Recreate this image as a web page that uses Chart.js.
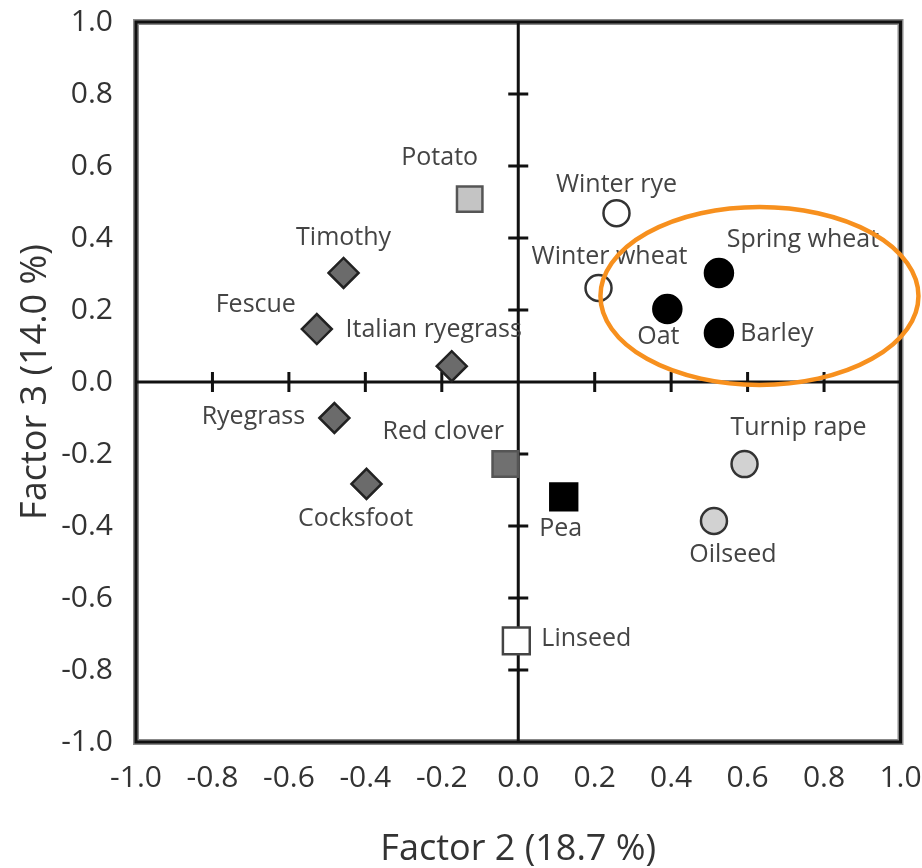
<!DOCTYPE html>
<html>
<head>
<meta charset="utf-8">
<script src="https://cdn.jsdelivr.net/npm/chart.js@4.4.1/dist/chart.umd.min.js"></script>
<style>
  html, body { margin: 0; padding: 0; background: #fff; }
  #wrap { width: 922px; height: 868px; }
</style>
</head>
<body>
<div id="wrap"><canvas id="pca" width="922" height="868"></canvas></div>
<script>
// crops and their loadings on factor 2 / factor 3
const crops = ['Potato', 'Timothy', 'Fescue', 'Italian ryegrass', 'Ryegrass', 'Cocksfoot',
  'Red clover', 'Pea', 'Linseed', 'Winter rye', 'Winter wheat', 'Spring wheat', 'Oat',
  'Barley', 'Turnip rape', 'Oilseed'];
const factor2 = [-0.127, -0.457, -0.527, -0.174, -0.481, -0.397,
  -0.034, 0.119, -0.005, 0.257, 0.210, 0.525, 0.390,
  0.525, 0.592, 0.512];
const factor3 = [0.508, 0.303, 0.147, 0.044, -0.100, -0.283,
  -0.228, -0.319, -0.719, 0.469, 0.261, 0.303, 0.203,
  0.136, -0.228, -0.386];
const cropGroup = ['potato', 'grass', 'grass', 'grass', 'grass', 'grass',
  'clover', 'pea', 'linseed', 'winter', 'winter', 'spring', 'spring',
  'spring', 'oil', 'oil'];
const axisTicks = [-1.0, -0.8, -0.6, -0.4, -0.2, 0.0, 0.2, 0.4, 0.6, 0.8, 1.0];

// marker look per group
const groupStyle = {
  potato:  { shape: 'rect',    r: 18, fill: '#c4c4c4', line: '#555' },
  grass:   { shape: 'rectRot', r: 15, fill: '#6b6b6b', line: '#222' },
  clover:  { shape: 'rect',    r: 18, fill: '#707070', line: '#555' },
  pea:     { shape: 'rect',    r: 19, fill: '#000',    line: '#000' },
  linseed: { shape: 'rect',    r: 19, fill: '#fff',    line: '#444' },
  winter:  { shape: 'circle',  r: 13, fill: '#fff',    line: '#333' },
  spring:  { shape: 'circle',  r: 14, fill: '#000',    line: '#000' },
  oil:     { shape: 'circle',  r: 13, fill: '#d2d2d2', line: '#333' }
};

// label placement relative to the marker (px)
const labelOffset = {
  'Potato': [-30, -41], 'Timothy': [0, -35], 'Fescue': [-61, -24],
  'Italian ryegrass': [-18, -36], 'Ryegrass': [-81, -1], 'Cocksfoot': [-11, 35],
  'Red clover': [-62, -32], 'Pea': [-3, 32], 'Linseed': [70, -2],
  'Winter rye': [0, -28], 'Winter wheat': [11, -31], 'Spring wheat': [84, -33],
  'Oat': [-9, 28], 'Barley': [58, 1], 'Turnip rape': [54, -36], 'Oilseed': [19, 34]
};

// orange highlight around the spring cereals (data units)
const highlight = { x: 0.631, y: 0.239, rx: 0.416, ry: 0.247 };

let points = factor2.map((v, i) => ({ x: v, y: factor3[i] }));
let st = cropGroup.map((g) => groupStyle[g]);

const FONT = '"Open Sans", "Liberation Sans", Arial, sans-serif';
const fmt = (v) => (Math.abs(v) < 1e-9 ? '0.0' : v.toFixed(1));

const pcaPlugin = {
  id: 'pcaPlugin',
  beforeDatasetsDraw(chart) {
    const { ctx, chartArea: a, scales } = chart;
    const x0 = scales.x.getPixelForValue(0);
    const y0 = scales.y.getPixelForValue(0);
    ctx.save();
    // frame
    ctx.strokeStyle = '#888';
    ctx.lineWidth = 6;
    ctx.strokeRect(a.left, a.top, a.right - a.left, a.bottom - a.top);
    ctx.strokeStyle = '#111';
    ctx.lineWidth = 3;
    ctx.strokeRect(a.left, a.top, a.right - a.left, a.bottom - a.top);
    // zero lines
    ctx.lineWidth = 3;
    ctx.beginPath();
    ctx.moveTo(a.left, y0); ctx.lineTo(a.right, y0);
    ctx.moveTo(x0, a.top); ctx.lineTo(x0, a.bottom);
    ctx.stroke();
    // small ticks crossing the zero lines
    ctx.beginPath();
    axisTicks.forEach((t) => {
      if (Math.abs(t) < 1e-9 || Math.abs(t) > 0.99) return;
      const px = scales.x.getPixelForValue(t);
      const py = scales.y.getPixelForValue(t);
      ctx.moveTo(px, y0 - 10); ctx.lineTo(px, y0 + 10);
      ctx.moveTo(x0 - 10, py); ctx.lineTo(x0 + 10, py);
    });
    ctx.stroke();
    ctx.restore();
  },
  afterDatasetsDraw(chart) {
    const { ctx } = chart;
    const meta = chart.getDatasetMeta(0);
    ctx.save();
    ctx.font = '25px ' + FONT;
    ctx.fillStyle = '#444';
    ctx.textAlign = 'center';
    ctx.textBaseline = 'middle';
    meta.data.forEach((el, i) => {
      const off = labelOffset[crops[i]];
      ctx.fillText(crops[i], el.x + off[0], el.y + off[1]);
    });
    ctx.restore();
  },
  afterDraw(chart) {
    const { ctx, scales } = chart;
    const cx = scales.x.getPixelForValue(highlight.x);
    const cy = scales.y.getPixelForValue(highlight.y);
    const rx = Math.abs(scales.x.getPixelForValue(highlight.x + highlight.rx) - cx);
    const ry = Math.abs(scales.y.getPixelForValue(highlight.y + highlight.ry) - cy);
    ctx.save();
    ctx.strokeStyle = '#f7901e';
    ctx.lineWidth = 4.5;
    ctx.beginPath();
    ctx.ellipse(cx, cy, rx, ry, 0, 0, Math.PI * 2);
    ctx.stroke();
    ctx.restore();
  }
};

new Chart(document.getElementById('pca'), {
  type: 'scatter',
  data: {
    datasets: [{
      label: 'Crops',
      data: points,
      pointStyle: st.map((s) => s.shape),
      pointRadius: st.map((s) => s.r),
      pointHoverRadius: st.map((s) => s.r),
      backgroundColor: st.map((s) => s.fill),
      borderColor: st.map((s) => s.line),
      pointBorderWidth: 2.5
    }]
  },
  options: {
    responsive: false,
    animation: false,
    events: [],
    layout: { padding: { left: 14, top: 22, right: 18, bottom: 0 } },
    plugins: { legend: { display: false }, tooltip: { enabled: false } },
    scales: {
      x: {
        type: 'linear', min: -1, max: 1,
        grid: { display: false }, border: { display: false },
        afterFit: (s) => { s.height = 126; s.paddingLeft = 0; s.paddingRight = 0; },
        ticks: {
          stepSize: 0.2, padding: 10, color: '#333',
          font: { size: 30, family: FONT },
          callback: (v) => fmt(v)
        },
        title: {
          display: true, text: 'Factor 2 (18.7 %)', color: '#333',
          font: { size: 36, family: FONT, lineHeight: 1 },
          padding: { top: 0, bottom: 0 }
        }
      },
      y: {
        type: 'linear', min: -1, max: 1,
        grid: { display: false }, border: { display: false },
        afterFit: (s) => { s.width = 122; s.paddingTop = 0; s.paddingBottom = 0; },
        ticks: {
          stepSize: 0.2, padding: 15, color: '#333',
          font: { size: 30, family: FONT },
          callback: (v) => fmt(v)
        },
        title: {
          display: true, text: 'Factor 3 (14.0 %)', color: '#333',
          font: { size: 36, family: FONT },
          padding: { top: 0, bottom: 0 }
        }
      }
    }
  },
  plugins: [pcaPlugin]
});
</script>
</body>
</html>
